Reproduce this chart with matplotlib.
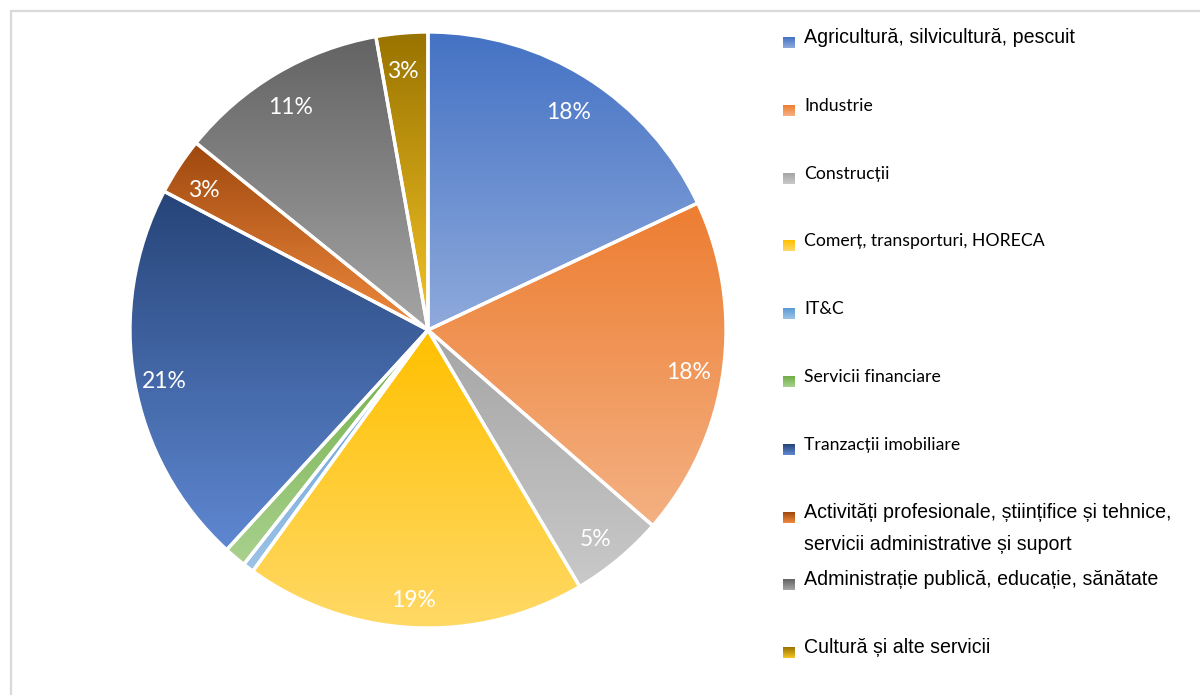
import numpy as np
import matplotlib
matplotlib.use("Agg")
import matplotlib.pyplot as plt
from matplotlib.colors import to_rgb
from matplotlib.patches import Rectangle

# ponderea ramurilor in total (%)
sectoare = [
    "Agricultură, silvicultură, pescuit",
    "Industrie",
    "Construcții",
    "Comerț, transporturi, HORECA",
    "IT&C",
    "Servicii financiare",
    "Tranzacții imobiliare",
    "Activități profesionale, științifice și tehnice,\nservicii administrative și suport",
    "Administrație publică, educație, sănătate",
    "Cultură și alte servicii",
]
ponderi = [18.0, 18.4, 5.1, 18.5, 0.6, 1.2, 20.9, 3.1, 11.4, 2.8]
etichete = ["18%", "18%", "5%", "19%", "", "", "21%", "3%", "11%", "3%"]

# culori gradient: sus -> jos
culori_sus = ["#4472C4", "#ED7D31", "#A5A5A5", "#FFC000", "#5B9BD5",
              "#70AD47", "#264478", "#9E480E", "#636363", "#997300"]
culori_jos = ["#8FAADC", "#F4B183", "#C9C9C9", "#FFD966", "#9DC3E6",
              "#A9D18E", "#5F88D2", "#F08A3E", "#A5A5A5", "#F5C527"]

# fonturi legenda (unele intrari sunt in alt font)
font_calibri = ["Lato", "DejaVu Sans"]
font_arial = ["Liberation Sans", "DejaVu Sans"]
fonturi_legenda = [font_arial] + [font_calibri] * 6 + [font_arial] * 3

W, H = 1200, 695
fig = plt.figure(figsize=(12, 6.95), dpi=100)
ax = fig.add_axes([0, 0, 1, 1])


def gradient(c_sus, c_jos, n=256):
    a, b = np.array(to_rgb(c_sus)), np.array(to_rgb(c_jos))
    t = np.linspace(0, 1, n)[:, None]
    return (a + (b - a) * t)[:, None, :]


cx, cy, R = 428, H - 330, 298
wedges, _ = ax.pie(ponderi, startangle=90, counterclock=False,
                   center=(cx, cy), radius=R,
                   wedgeprops=dict(edgecolor="white", linewidth=2.4))

for i, w in enumerate(wedges):
    th = np.radians(np.linspace(w.theta1, w.theta2, 200))
    xs = np.concatenate([[cx], cx + R * np.cos(th)])
    ys = np.concatenate([[cy], cy + R * np.sin(th)])
    img = ax.imshow(gradient(culori_sus[i], culori_jos[i]), aspect="auto",
                    extent=(xs.min(), xs.max(), ys.min(), ys.max()),
                    origin="upper", zorder=1, interpolation="bilinear")
    img.set_clip_path(w)
    w.set_facecolor("none")
    w.set_zorder(2)

    if etichete[i]:
        mid = np.radians((w.theta1 + w.theta2) / 2)
        ax.text(cx + 0.89 * R * np.cos(mid) - 2, cy + 0.89 * R * np.sin(mid) - 6,
                etichete[i], color="white", fontsize=16.5, family=font_calibri,
                ha="center", va="center", zorder=3)

# legenda
x_patrat, x_text = 783, 804
y0, pas, rand2 = 43, 67.8, 32
for i, nume in enumerate(sectoare):
    yb = H - (y0 + i * pas)
    ax.imshow(gradient(culori_sus[i], culori_jos[i], 32), aspect="auto",
              extent=(x_patrat, x_patrat + 12, yb - 5, yb + 6),
              origin="upper", zorder=1)
    marime = 14.1 if fonturi_legenda[i] is font_arial else 12.7
    for j, linie in enumerate(nume.split("\n")):
        ax.text(x_text, yb - j * rand2, linie, fontsize=marime,
                family=fonturi_legenda[i], color="black",
                ha="left", va="baseline")

# chenarul graficului
ax.add_patch(Rectangle((10.5, -10), W, H - 11 + 10, fill=False,
                       edgecolor="#D9D9D9", linewidth=1.6, zorder=4))

ax.set_xlim(0, W)
ax.set_ylim(0, H)
ax.set_aspect("equal")
ax.axis("off")

fig.savefig("out.png", dpi=100)
